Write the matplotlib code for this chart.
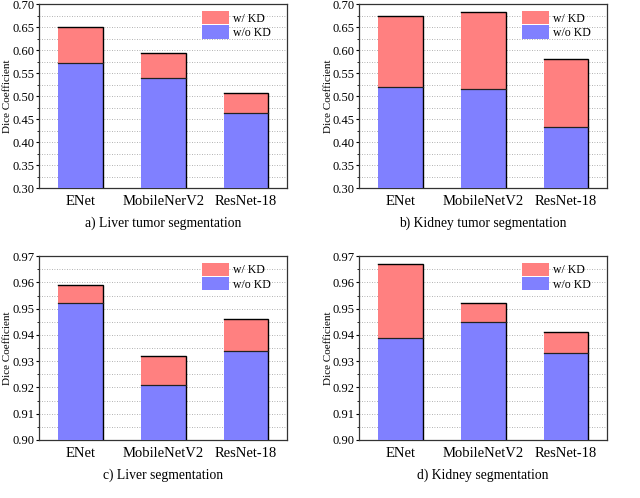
import numpy as np
import matplotlib
matplotlib.use("Agg")
import matplotlib.pyplot as plt
from matplotlib.ticker import MultipleLocator, FormatStrFormatter

plt.rcParams['font.family'] = ['Liberation Serif', 'DejaVu Serif']

# === DATA ===
models_a = ["ENet", "MobileNerV2", "ResNet-18"]
models = ["ENet", "MobileNetV2", "ResNet-18"]

liver_tumor_wo = [0.573, 0.539, 0.463]
liver_tumor_w = [0.652, 0.595, 0.507]
kidney_tumor_wo = [0.521, 0.515, 0.434]
kidney_tumor_w = [0.676, 0.684, 0.581]
liver_wo = [0.952, 0.921, 0.934]
liver_w = [0.959, 0.932, 0.946]
kidney_wo = [0.939, 0.945, 0.933]
kidney_w = [0.967, 0.952, 0.941]

RED = "#FF8080"
BLUE = "#8080FF"
BAR_W = 0.54

fig = plt.figure(figsize=(6.4, 4.98), dpi=100)

panels = [
    ([0.061, 0.622, 0.388, 0.369], -0.108, models_a, liver_tumor_wo, liver_tumor_w,
     (0.30, 0.70), 0.05, 0.025, "a) Liver tumor segmentation"),
    ([0.561, 0.622, 0.388, 0.369], -0.105, models, kidney_tumor_wo, kidney_tumor_w,
     (0.30, 0.70), 0.05, 0.025, "b) Kidney tumor segmentation"),
    ([0.061, 0.1165, 0.388, 0.369], -0.108, models, liver_wo, liver_w,
     (0.90, 0.97), 0.01, 0.005, "c) Liver segmentation"),
    ([0.561, 0.1165, 0.388, 0.369], -0.105, models, kidney_wo, kidney_w,
     (0.90, 0.97), 0.01, 0.005, "d) Kidney segmentation"),
]

for rect, ylab_x, names, wo, w, ylim, major, minor, caption in panels:
    ax = fig.add_axes(rect)
    x = np.arange(len(names))
    wo = np.array(wo)
    w = np.array(w)
    ax.bar(x, wo - ylim[0], bottom=ylim[0], width=BAR_W, color=BLUE,
           edgecolor="none", label="w/o KD", zorder=3)
    ax.bar(x, w - wo, bottom=wo, width=BAR_W, color=RED,
           edgecolor="none", label="w/ KD", zorder=3)
    # dark top / right / split edges like the original
    hw = BAR_W / 2
    for xi, lo, hi in zip(x, wo, w):
        ax.plot([xi - hw, xi + hw, xi + hw], [hi, hi, ylim[0]],
                color="black", lw=1.0, zorder=4, solid_joinstyle="miter")
        ax.plot([xi - hw, xi + hw], [lo, lo], color="#222222", lw=0.9, zorder=4)

    ax.set_xlim(-0.5, 2.5)
    ax.set_ylim(*ylim)
    ax.set_xticks(x)
    ax.set_xticklabels(names, fontsize=10.5)
    ax.yaxis.set_major_locator(MultipleLocator(major))
    ax.yaxis.set_minor_locator(MultipleLocator(minor))
    ax.yaxis.set_major_formatter(FormatStrFormatter("%.2f"))
    ax.tick_params(axis='y', which='both', direction='out', labelsize=9, pad=1)
    ax.tick_params(axis='y', which='major', length=2.5)
    ax.tick_params(axis='y', which='minor', length=1.5)
    ax.tick_params(axis='x', length=0, pad=5)
    ax.grid(axis='y', which='both', linestyle=(0, (1, 2)), color="#999999",
            linewidth=0.6, zorder=0)
    for s in ax.spines.values():
        s.set_linewidth(0.9)
        s.set_color("#333333")

    ax.set_ylabel("Dice Coefficient", fontsize=8)
    ax.yaxis.set_label_coords(ylab_x, 0.5)
    ax.set_xlabel(caption, fontsize=9.8, labelpad=6)

    handles, labels = ax.get_legend_handles_labels()
    leg = ax.legend(handles[::-1], labels[::-1], loc="upper right",
                    bbox_to_anchor=(0.94, 0.97), borderaxespad=0,
                    fontsize=8.5, frameon=False,
                    borderpad=0.1, handlelength=2.3, handleheight=1.35,
                    labelspacing=0.05, handletextpad=0.4)

fig.savefig("out.png", dpi=100)
